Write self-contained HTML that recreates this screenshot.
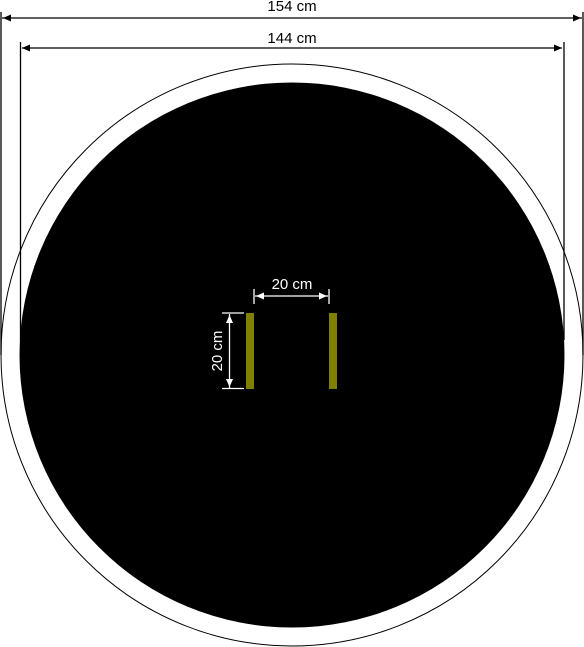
<!DOCTYPE html>
<html><head><meta charset="utf-8"><style>body{margin:0;background:#fff}svg{display:block}text{font-family:"Liberation Sans",sans-serif;font-size:15px}</style></head>
<body>
<svg width="584" height="647" viewBox="0 0 584 647">
<circle cx="292" cy="355" r="291" fill="#fff" stroke="#000" stroke-width="1"/>
<circle cx="292" cy="355" r="272.5" fill="#000"/>
<g stroke="#000" stroke-width="1.3">
<line x1="1" y1="12" x2="1" y2="355"/>
<line x1="583" y1="12" x2="583" y2="355"/>
<line x1="2" y1="18" x2="582" y2="18"/>
</g>
<g fill="#000">
<polygon points="3,18 11,14.5 11,21.5"/><polygon points="581,18 573,14.5 573,21.5"/>
</g>
<text x="292" y="11" text-anchor="middle">154 cm</text>
<g stroke="#000" stroke-width="1.3">
<line x1="20.5" y1="42" x2="20.5" y2="340"/>
<line x1="564" y1="42" x2="564" y2="340"/>
<line x1="22" y1="48" x2="562" y2="48"/>
</g>
<g fill="#000">
<polygon points="22,48 30,44.5 30,51.5"/><polygon points="562,48 554,44.5 554,51.5"/>
</g>
<text x="292" y="43" text-anchor="middle">144 cm</text>
<rect x="246" y="313" width="8" height="76" fill="#808000"/>
<rect x="329" y="313" width="8" height="76" fill="#808000"/>
<g stroke="#fff" stroke-width="1.3">
<line x1="254" y1="289" x2="254" y2="304"/>
<line x1="329" y1="289" x2="329" y2="304"/>
<line x1="255" y1="296" x2="328" y2="296"/>
</g>
<g fill="#fff">
<polygon points="256,296 264,292.5 264,299.5"/><polygon points="327,296 319,292.5 319,299.5"/>
</g>
<text x="292" y="289" text-anchor="middle" fill="#fff">20 cm</text>
<g stroke="#fff" stroke-width="1.3">
<line x1="222" y1="313" x2="244" y2="313"/>
<line x1="222" y1="388.5" x2="244" y2="388.5"/>
<line x1="229.5" y1="314" x2="229.5" y2="388"/>
</g>
<g fill="#fff">
<polygon points="229.5,315 226,323 233,323"/><polygon points="229.5,387 226,379 233,379"/>
</g>
<text transform="translate(222,351) rotate(-90)" text-anchor="middle" fill="#fff">20 cm</text>
</svg>
</body></html>
